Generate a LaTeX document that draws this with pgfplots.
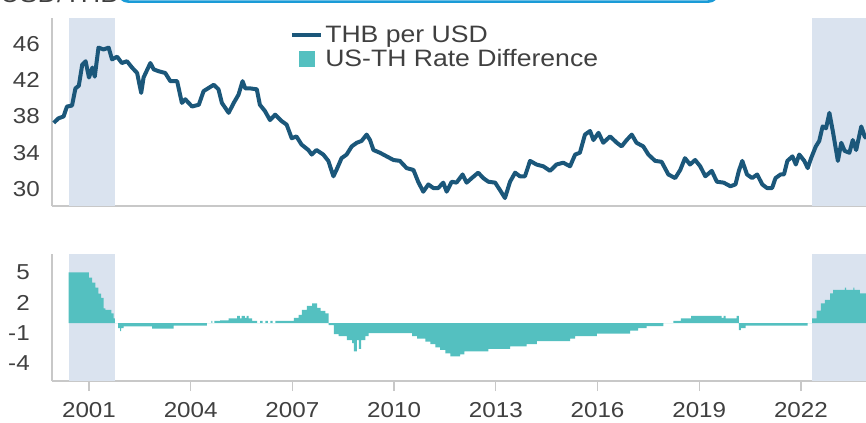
\documentclass[border=0pt]{standalone}
\usepackage{fontspec}
\setmainfont[FakeStretch=1.12]{Liberation Sans}
\usepackage{pgfplots}
\pgfplotsset{compat=1.18}
\definecolor{thbline}{HTML}{1B577A}
\definecolor{diffteal}{HTML}{54C0C0}
\definecolor{shadebg}{HTML}{DAE3EF}
\definecolor{axgray}{HTML}{C8C8C8}
\definecolor{txtgray}{HTML}{404040}
\definecolor{hdrblue}{HTML}{1A9BD7}
\newcommand\tickfont{\fontsize{16.2}{18}\selectfont}
\newcommand\legfont{\fontsize{17.8}{20}\selectfont}
\pgfplotsset{
  common/.style={
    scale only axis, width=610.5pt,
    xmin=1999.909, xmax=2023.92,
    axis x line*=bottom, axis y line*=left,
    axis line style={-, draw=axgray, line width=0.8pt},
    yticklabel style={font=\tickfont, text=txtgray, anchor=east, inner sep=0pt, xshift=-9pt},
    xticklabel style={font=\tickfont, text=txtgray, anchor=north, inner sep=0pt},
    ytick style={draw=none},
  }
}
\begin{document}
\begin{tikzpicture}
\useasboundingbox (0,0) rectangle (649.5pt,-316.5pt);
\draw[hdrblue, line width=2pt, rounded corners=8pt] (88.5pt,-1.2pt) rectangle (539pt,30pt);
\node[anchor=base west, text=txtgray, font=\fontsize{18}{20}\selectfont, inner sep=0pt] at (0pt,-1.8pt) {USD/THB};

\begin{axis}[common,
  at={(39pt,-154.5pt)}, anchor=south west, height=141pt,
  ymin=28.12, ymax=48.87,
  xtick=\empty,
  ytick={30,34,38,42,46}, yticklabels={30,34,38,42,46},
  major tick length=0pt,
  legend style={at={(0.292,0.972)}, anchor=north west, draw=none, fill=none,
    font=\legfont, text=txtgray, inner sep=0pt, row sep=1pt,
    nodes={inner sep=1.5pt}},
  legend cell align=left,
]
\fill[shadebg] (axis cs:2000.41,28.12) rectangle (axis cs:2001.77,48.87);
\fill[shadebg] (axis cs:2022.32,28.12) rectangle (axis cs:2023.92,48.87);
\addplot[thbline, line width=3pt, line join=round,
  legend image code/.code={\draw[thbline, line width=3pt] (0pt,0pt) -- (22pt,0pt);}]
coordinates {
(1999.96,37.3)(2000.1,37.8)(2000.25,38.0)(2000.35,39.1)(2000.5,39.2)(2000.6,41.1)
(2000.7,41.4)(2000.8,43.7)(2000.9,44.1)(2001.0,42.3)(2001.1,43.4)(2001.17,42.4)
(2001.28,45.6)(2001.43,45.4)(2001.58,45.6)(2001.68,44.3)(2001.83,44.6)(2001.97,43.9)
(2002.12,44.1)(2002.27,43.4)(2002.42,42.8)(2002.54,40.6)(2002.61,42.3)(2002.81,43.9)
(2002.91,43.2)(2003.05,43.0)(2003.25,42.8)(2003.4,41.9)(2003.6,41.9)(2003.74,39.5)
(2003.84,39.9)(2004.04,39.1)(2004.24,39.3)(2004.38,40.8)(2004.68,41.5)(2004.82,41.0)
(2004.92,39.5)(2005.12,38.4)(2005.27,39.5)(2005.41,40.4)(2005.53,41.9)(2005.61,41.1)
(2005.76,41.1)(2005.95,41.0)(2006.04,39.3)(2006.19,38.6)(2006.34,37.6)(2006.49,38.2)
(2006.68,37.5)(2006.83,37.1)(2006.98,35.6)(2007.12,35.8)(2007.27,34.9)(2007.47,34.3)
(2007.57,33.8)(2007.71,34.3)(2007.91,33.8)(2008.06,33.1)(2008.21,31.4)(2008.3,32.1)
(2008.45,33.4)(2008.6,33.8)(2008.75,34.7)(2008.9,35.1)(2009.04,35.3)(2009.19,36.0)
(2009.29,35.4)(2009.39,34.3)(2009.58,34.0)(2009.78,33.6)(2009.98,33.2)(2010.17,33.1)
(2010.37,32.3)(2010.57,32.1)(2010.71,30.8)(2010.86,29.7)(2011.01,30.5)(2011.16,30.1)
(2011.3,30.1)(2011.45,30.7)(2011.55,29.7)(2011.7,30.8)(2011.84,30.7)(2012.02,31.6)
(2012.14,30.7)(2012.29,31.2)(2012.48,31.8)(2012.63,31.2)(2012.78,30.8)(2012.98,30.7)
(2013.12,29.9)(2013.27,29.0)(2013.42,30.8)(2013.57,31.8)(2013.71,31.4)(2013.86,31.4)
(2014.01,33.1)(2014.2,32.7)(2014.4,32.5)(2014.6,32.0)(2014.79,32.7)(2014.99,32.9)
(2015.19,32.5)(2015.34,33.8)(2015.48,34.0)(2015.63,36.0)(2015.78,36.4)(2015.88,35.4)
(2016.03,36.2)(2016.17,35.1)(2016.37,35.8)(2016.57,35.1)(2016.71,34.7)(2016.86,35.4)
(2017.01,36.0)(2017.15,35.1)(2017.35,34.7)(2017.5,33.8)(2017.7,33.1)(2017.89,33.0)
(2018.09,31.6)(2018.29,31.2)(2018.44,32.1)(2018.58,33.4)(2018.73,32.7)(2018.88,33.2)
(2019.03,32.5)(2019.18,31.4)(2019.37,32.0)(2019.52,30.8)(2019.72,30.7)(2019.92,30.3)
(2020.07,30.5)(2020.17,32.0)(2020.27,33.1)(2020.41,31.6)(2020.56,31.2)(2020.71,31.6)
(2020.86,30.5)(2021.0,30.1)(2021.15,30.1)(2021.25,31.2)(2021.4,31.6)(2021.5,31.6)
(2021.6,33.1)(2021.75,33.6)(2021.85,32.7)(2021.95,33.8)(2022.1,33.1)(2022.2,32.3)
(2022.3,33.4)(2022.44,34.7)(2022.54,35.3)(2022.64,36.9)(2022.74,36.7)(2022.84,38.4)
(2022.94,36.4)(2023.09,33.1)(2023.19,35.1)(2023.29,34.2)(2023.43,34.0)(2023.53,35.4)
(2023.63,34.3)(2023.78,36.9)(2023.88,35.8)(2023.93,35.6)
};
\addlegendentry{THB per USD}
\addlegendimage{legend image code/.code={\fill[diffteal] (5.5pt,-5.5pt) rectangle (16.5pt,5.5pt);}}
\addlegendentry{US-TH Rate Difference}
\end{axis}

\begin{axis}[common,
  at={(39pt,-285.75pt)}, anchor=south west, height=95.25pt,
  ymin=-5.74, ymax=6.83,
  xtick={2001,2004,2007,2010,2013,2016,2019,2022},
  xticklabels={2001,2004,2007,2010,2013,2016,2019,2022},
  ytick={-4,-1,2,5}, yticklabels={-4,-1,2,5},
  tick align=outside, xtick pos=bottom, ytick pos=left,
  major tick length=7.5pt,
  xtick style={draw=axgray, line width=1pt},
  xticklabel style={yshift=-8.25pt},
]
\fill[shadebg] (axis cs:2000.41,-5.74) rectangle (axis cs:2001.77,6.83);
\fill[shadebg] (axis cs:2022.32,-5.74) rectangle (axis cs:2023.92,6.83);
\addplot[const plot, fill=diffteal, draw=none] coordinates {
(2000.40,5.0)(2001.00,4.5)(2001.09,4.0)(2001.19,3.5)(2001.28,2.9)(2001.36,2.5)
(2001.43,1.45)(2001.48,1.3)(2001.66,0.95)(2001.73,0.45)(2001.76,0)
(2001.86,-0.5)(2001.92,-0.8)(2001.95,-0.5)(2002.02,-0.33)(2002.86,-0.55)(2003.50,-0.25)
(2004.48,0)(2004.61,0.2)(2004.64,0)(2004.70,0.2)(2004.87,0.25)(2005.12,0.45)
(2005.37,0.7)(2005.45,0.45)(2005.50,0.7)(2005.60,0.5)(2005.65,0.7)(2005.71,0.45)
(2005.81,0.2)(2005.96,0)(2006.05,0.2)(2006.12,0)(2006.20,0.2)(2006.28,0)(2006.35,0.2)(2006.42,0)
(2006.50,0.2)(2007.04,0.5)(2007.18,0.8)(2007.28,1.3)(2007.43,1.7)(2007.58,1.95)
(2007.73,1.5)(2007.83,1.2)(2007.97,0.95)(2008.07,-0.2)(2008.22,-1.1)(2008.36,-1.3)
(2008.61,-1.7)(2008.76,-2.0)(2008.81,-2.8)(2008.90,-1.7)(2008.96,-2.55)(2009.03,-1.7)
(2009.15,-1.3)(2009.25,-1.0)(2010.53,-1.3)(2010.68,-1.55)(2010.92,-1.85)(2011.07,-2.1)
(2011.22,-2.4)(2011.36,-2.65)(2011.51,-3.0)(2011.66,-3.3)(2011.95,-3.1)(2012.07,-2.8)
(2012.78,-2.55)(2013.42,-2.3)(2013.91,-2.1)(2014.21,-1.8)(2015.19,-1.55)(2015.34,-1.3)
(2015.98,-1.05)(2016.96,-0.75)(2017.20,-0.5)(2017.45,-0.3)(2017.94,0)(2018.24,0.2)
(2018.46,0.45)(2018.76,0.7)(2019.66,0.5)(2019.72,0.7)(2019.78,0.45)(2020.10,0.7)
(2020.17,-0.7)(2020.23,-0.5)(2020.37,-0.25)(2022.20,0)(2022.33,0.46)(2022.46,1.22)
(2022.59,1.95)(2022.71,2.28)(2022.86,2.94)(2022.95,3.27)(2023.30,3.5)(2023.33,3.27)
(2023.55,3.5)(2023.58,3.27)(2023.74,2.94)(2023.92,2.94)
} \closedcycle;
\node[text=txtgray, font=\tickfont, inner sep=0pt] at (rel axis cs:0,1) [yshift=18.4pt] {\%};
\end{axis}
\end{tikzpicture}
\end{document}
